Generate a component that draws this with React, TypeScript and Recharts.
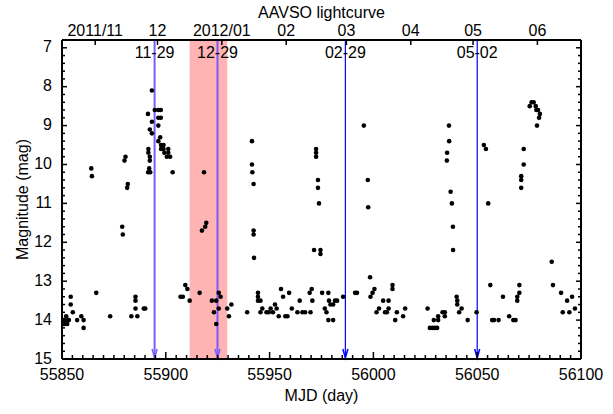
import { ComposedChart, Scatter, XAxis, YAxis, ReferenceArea, ReferenceLine } from "recharts";

const FONT = "'Liberation Sans', Arial, Helvetica, sans-serif";

// AAVSO observations: MJD and visual magnitude
const mjd = [
  55850.5, 55851, 55851, 55851.5, 55852, 55852, 55852.5, 55853, 55853.3, 55854.2,
  55854.2, 55855.2, 55857.3, 55859.3, 55860.4, 55860.4, 55864.1, 55864.4, 55866.5, 55873.2,
  55879, 55879.3, 55880.1, 55880.6, 55881.4, 55881.7, 55883.4, 55885.4, 55885.4, 55885.4,
  55886.3, 55889.4, 55890.1,
  55891.4, 55891.6, 55891.6, 55892.3, 55892.3, 55892.0, 55891.5, 55892.5, 55892.3, 55893.3,
  55893.3, 55893.3, 55894.7, 55896.4, 55897.6, 55896.4, 55897.6, 55896.4, 55897.3, 55896.4,
  55897.7, 55898.9, 55897.7, 55898.9, 55899.3, 55900.5, 55901.2, 55901.2, 55902.1, 55903.3,
  55907.1, 55908.2, 55909.4, 55910.4, 55911.5, 55916.3, 55917.4, 55918.4, 55919, 55919.5,
  55922.2, 55923.2, 55924.3, 55924.3, 55925.5, 55925.5, 55926.4, 55929.6, 55930.4, 55931.6,
  55939.2,
  55941.5, 55941.5, 55941.7, 55942.3, 55942.3, 55942.3, 55942.5, 55944.4, 55944.4, 55944.4,
  55945.6, 55945.6, 55946.5, 55948.5, 55949.6, 55950.5, 55951.6, 55952.6, 55953.4, 55954.4,
  55955.5, 55956.5, 55957.6, 55958.6, 55959.4, 55960.7, 55963.4, 55964.5, 55965.8, 55967.1,
  55969.3, 55969.7, 55970.3, 55970.6, 55971.4, 55972.4, 55972.4, 55972.4, 55973.3, 55973.3,
  55973.8, 55974.5, 55974.5, 55975.3, 55976.6, 55977.4, 55978.3, 55978.3, 55978.6, 55979.3,
  55980.6, 55980.6, 55981.5, 55982.5, 55985.4, 55991.2, 55992.1, 55995.4, 55997.3, 55997.5,
  55998.4, 55998.6, 55999.6, 56000.5, 56001.5, 56002.7, 56004.7, 56005.6, 56006.5, 56007.3,
  56007.3, 56009.2, 56009.2, 56010.5, 56011.3, 56014.3, 56015.3,
  56026.1, 56027.2, 56028.5, 56029.6, 56030.7, 56029.1, 56031.2, 56031.2, 56033.3, 56034.4,
  56034.4, 56035.4, 56035.5, 56036.4, 56036.5, 56037.2, 56037.8, 56038.3, 56038.4, 56040.1,
  56040.4, 56040.4, 56041.3, 56042.5, 56045.4, 56049.7, 56053.2, 56054.2, 56055.3, 56056.3,
  56057.2, 56058.1, 56060.3, 56062.4, 56065.4, 56067.4, 56068.5, 56069.3, 56069.3, 56070.3,
  56070.3, 56071.2, 56071.2, 56071.2, 56072.4, 56072.4, 56075.3, 56076.2, 56077.2, 56078.2,
  56078.5, 56079.3, 56080.2, 56079.8, 56078.8, 56085.9, 56086.5, 56090.4, 56091.2, 56093.3,
  56094.4, 56095.7, 56097.1,
];
const mag = [
  14.1, 14.0, 14.1, 14.1, 14.0, 13.9, 14.1, 14.0, 14.0, 13.4,
  13.6, 13.8, 14.0, 13.9, 14.0, 14.2, 10.1, 10.3, 13.3, 13.9,
  11.6, 11.8, 9.9, 9.8, 10.6, 10.5, 13.9, 13.4, 13.5, 13.7,
  13.9, 13.7, 13.7,
  8.7, 9.6, 9.7, 9.8, 9.9, 10.1, 10.2, 10.2, 9.1, 8.1,
  8.9, 9.2, 8.6, 8.6, 8.6, 8.8, 8.8, 9.0, 9.3, 9.4,
  9.5, 9.5, 9.6, 9.6, 9.7, 9.8, 9.6, 9.7, 9.8, 10.2,
  13.4, 13.4, 13.1, 13.2, 13.5, 13.3, 11.7, 10.2, 11.6, 11.5,
  13.5, 13.8, 13.5, 14.1, 13.3, 13.7, 13.4, 13.7, 13.9, 13.6,
  13.8,
  9.4, 10.0, 10.2, 10.5, 11.7, 11.8, 12.4, 13.3, 13.4, 13.5,
  13.5, 13.8, 13.7, 13.8, 13.8, 13.7, 13.8, 13.6, 13.7, 13.9,
  13.2, 13.4, 13.9, 13.9, 13.3, 13.7, 13.8, 13.5, 13.8, 13.8,
  13.3, 13.8, 13.2, 13.5, 12.2, 9.6, 9.7, 9.8, 10.4, 10.6,
  11.0, 12.2, 12.3, 13.3, 13.7, 13.8, 13.3, 14.0, 13.5, 13.6,
  13.6, 14.0, 13.5, 13.5, 13.4, 13.3, 13.3, 9.0, 10.4, 11.1,
  12.9, 13.4, 13.3, 13.2, 13.8, 13.7, 13.5, 13.8, 13.8, 13.5,
  13.7, 13.1, 13.2, 14.0, 13.8, 13.9, 13.7,
  13.7, 14.2, 14.2, 14.2, 14.2, 14.0, 14.0, 13.9, 13.8, 13.8,
  13.9, 9.9, 9.7, 9.0, 9.4, 10.7, 11.0, 11.6, 12.2, 13.4,
  13.5, 13.6, 13.8, 13.7, 14.0, 13.8, 9.5, 9.6, 11.0, 13.1,
  14.0, 14.0, 14.0, 13.4, 13.9, 14.0, 14.0, 13.5, 13.4, 13.3,
  13.1, 10.3, 10.4, 10.6, 9.6, 10.0, 8.5, 8.4, 8.4, 8.5,
  8.6, 8.6, 8.7, 8.8, 9.0, 12.5, 13.1, 13.3, 13.8, 13.5,
  13.8, 13.4, 13.7,
];

const mjdMajor = [55850, 55900, 55950, 56000, 56050, 56100];
const magMajor = [7, 8, 9, 10, 11, 12, 13, 14, 15];
const monthTicks = [55866, 55896, 55927, 55958, 55987, 56018, 56048, 56079];
const monthLabels = ["2011/11", "12", "2012/01", "02", "03", "04", "05", "06"];
const markDays = [55894.6, 55924.9, 55986.5, 56050];
const markLabels = ["11-29", "12-29", "02-29", "05-02"];
const markColors = ["#7a5cff", "#7a5cff", "#0000ff", "#0000ff"];
const band = [55911.5, 55929.6];

const points = mjd.map((x, i) => ({ x, y: mag[i] }));

const mjdTicks: number[] = [];
for (let v = 55850; v <= 56100; v += 5) mjdTicks.push(v);
const magTicks: number[] = [];
for (let i = 0; i <= 40; i++) magTicks.push(Math.round((7 + i * 0.2) * 10) / 10);

const FS = 16;

const BottomTick = (p: any) => {
  const v = p.payload.value;
  const major = mjdMajor.includes(v);
  return (
    <g>
      <line x1={p.x} x2={p.x} y1={p.y - 1} y2={p.y - 1 - (major ? 6 : 3)} stroke="#000" strokeWidth={1.5} />
      {major && (
        <text x={p.x} y={p.y + 21} textAnchor="middle" fontSize={FS} fontFamily={FONT} fill="#000">
          {v}
        </text>
      )}
    </g>
  );
};

const TopTick = (p: any) => {
  const i = monthTicks.indexOf(p.payload.value);
  return (
    <g>
      <line x1={p.x} x2={p.x} y1={p.y} y2={p.y + 5} stroke="#000" strokeWidth={1.5} />
      <text x={p.x} y={p.y - 4} textAnchor="middle" fontSize={FS} fontFamily={FONT} fill="#000">
        {monthLabels[i]}
      </text>
    </g>
  );
};

const LeftTick = (p: any) => {
  const v = p.payload.value;
  const major = magMajor.includes(v);
  return (
    <g>
      <line x1={p.x} x2={p.x + (major ? 5 : 3)} y1={p.y} y2={p.y} stroke="#000" strokeWidth={1.5} />
      {major && (
        <text x={p.x - 10} y={p.y + 4.5} textAnchor="end" fontSize={FS} fontFamily={FONT} fill="#000">
          {v}
        </text>
      )}
    </g>
  );
};

const RightTick = (p: any) => {
  const major = magMajor.includes(p.payload.value);
  return <line x1={p.x} x2={p.x - (major ? 5 : 3)} y1={p.y} y2={p.y} stroke="#000" strokeWidth={1.5} />;
};

const markerShape = (label: string, color: string, width: number) => (p: any) => {
  const x = p.x1;
  const top = Math.min(p.y1, p.y2);
  const bot = Math.max(p.y1, p.y2);
  return (
    <g>
      <line x1={x} x2={x} y1={top} y2={bot} stroke={color} strokeWidth={width} />
      <polyline
        points={`${x - 2.5},${bot - 10} ${x},${bot - 1} ${x + 2.5},${bot - 10}`}
        fill="none"
        stroke={color}
        strokeWidth={1.5}
      />
      <text x={x} y={top + 18} textAnchor="middle" fontSize={FS} fontFamily={FONT} fill="#000">
        {label}
      </text>
    </g>
  );
};

const Dot = (p: any) => <circle cx={p.cx} cy={p.cy} r={2.3} fill="#000" />;
const NoDot = () => <g />;

const axisStroke = { stroke: "#000", strokeWidth: 2 };

export default function App() {
  return (
    <div style={{ position: "absolute", left: 0, top: 0, width: 613, height: 414, background: "#fff" }}>
      <ComposedChart width={613} height={414} margin={{ top: 39, right: 31, bottom: 54, left: 61 }}>
        <XAxis
          xAxisId="b"
          dataKey="x"
          type="number"
          domain={[55850, 56100]}
          allowDataOverflow
          ticks={mjdTicks}
          interval={0}
          height={1}
          tickSize={0}
          tickMargin={0}
          tickLine={false}
          axisLine={axisStroke}
          tick={BottomTick}
        />
        <XAxis
          xAxisId="t"
          dataKey="x"
          orientation="top"
          type="number"
          domain={[55850, 56100]}
          allowDataOverflow
          ticks={monthTicks}
          interval={0}
          height={1}
          tickSize={0}
          tickMargin={0}
          tickLine={false}
          axisLine={axisStroke}
          tick={TopTick}
        />
        <YAxis
          yAxisId="l"
          dataKey="y"
          type="number"
          domain={[6.8, 15]}
          reversed
          allowDataOverflow
          ticks={magTicks}
          interval={0}
          width={1}
          tickSize={0}
          tickMargin={0}
          tickLine={false}
          axisLine={axisStroke}
          tick={LeftTick}
        />
        <YAxis
          yAxisId="r"
          dataKey="y"
          orientation="right"
          type="number"
          domain={[6.8, 15]}
          reversed
          allowDataOverflow
          ticks={magTicks}
          interval={0}
          width={1}
          tickSize={0}
          tickMargin={0}
          tickLine={false}
          axisLine={axisStroke}
          tick={RightTick}
        />
        <ReferenceArea
          xAxisId="b"
          yAxisId="l"
          x1={band[0]}
          x2={band[1]}
          y1={6.8}
          y2={15}
          fill="#ffb3b3"
          fillOpacity={1}
          stroke="none"
        />
        {markDays.map((d, i) => (
          <ReferenceLine
            key={d}
            xAxisId="b"
            yAxisId="l"
            x={d}
            shape={markerShape(markLabels[i], markColors[i], i < 2 ? 2 : 1.2)}
          />
        ))}
        <Scatter xAxisId="t" yAxisId="r" data={points} shape={NoDot} isAnimationActive={false} />
        <Scatter xAxisId="b" yAxisId="l" data={points} shape={Dot} isAnimationActive={false} />
        <text x={321.5} y={18} textAnchor="middle" fontSize={FS} fontFamily={FONT} fill="#000">
          AAVSO lightcurve
        </text>
        <text x={321.5} y={401} textAnchor="middle" fontSize={FS} fontFamily={FONT} fill="#000">
          MJD (day)
        </text>
        <text
          x={22}
          y={199.5}
          transform="rotate(-90 22 199.5)"
          textAnchor="middle"
          dominantBaseline="central"
          fontSize={FS}
          fontFamily={FONT}
          fill="#000"
        >
          Magnitude (mag)
        </text>
      </ComposedChart>
    </div>
  );
}
